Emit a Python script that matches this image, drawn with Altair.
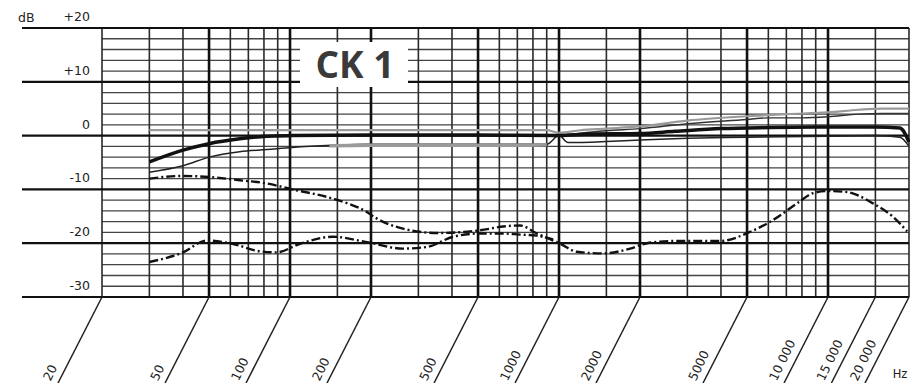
import altair as alt
import pandas as pd

# ---------------- grid / axis data ----------------
grid_freqs = [20, 30, 40, 60, 70, 80, 90, 150, 300, 400, 600, 700, 800, 900,
              1500, 3000, 4000, 6000, 7000, 8000, 9000, 15000, 20000]
major_freqs = [50, 100, 200, 500, 1000, 2000, 5000, 10000]
label_freqs = [20, 50, 100, 200, 500, 1000, 2000, 5000, 10000, 15000, 20000]
label_texts = ["20", "50", "100", "200", "500", "1000", "2000", "5000",
               "10 000", "15 000", "20 000"]
db_major = [-30, -20, -10, 0, 10, 20]
db_major_labels = ["-30", "-20", "-10", "0", "+10", "+20"]
db_minor = [-28, -26, -24, -22, -18, -16, -14, -12, -8, -6, -4, -2,
            2, 4, 6, 8, 12, 14, 16, 18]

# ---------------- curves ----------------
a_f = [30, 40, 50, 65, 82, 100, 200, 500, 1000, 1300, 2000, 2700, 4000, 6000, 10000, 15000, 18500, 20000]
a_db = [-4.9, -2.7, -1.5, -0.6, -0.1, 0.0, 0.1, 0.1, 0.0, 0.3, 0.4, 0.8, 1.3, 1.5, 1.6, 1.6, 1.4, -1.2]

b_f = [30, 40, 50, 65, 82, 102, 144, 193, 300, 500, 900, 1000, 1080, 1500, 2000, 3000, 5000, 10000, 15000, 18500, 20000]
b_db = [-6.8, -5.6, -4.0, -3.0, -2.6, -2.2, -1.8, -1.6, -1.6, -1.6, -1.6, 0.0, -1.3, -1.1, -0.8, -0.5, -0.3, -0.1, 0.0, -0.3, -2.0]

g_f = [140, 200, 400, 700, 900]
g_db = [-1.9, -1.8, -1.8, -1.8, -1.7]

c_f = [30, 100, 300, 900, 1000, 1200, 1500, 2000, 3000, 5000, 7000, 10000, 13000, 16000, 20000]
c_db = [1.0, 1.0, 1.0, 1.0, 0.5, 1.0, 1.3, 1.7, 2.8, 3.6, 4.0, 4.3, 4.8, 5.0, 5.0]

d_f = [1000, 1500, 2000, 3000, 5000, 6000, 8000, 10000, 13000, 16000, 20000]
d_db = [0.0, 0.9, 1.3, 2.2, 3.0, 3.3, 3.3, 3.5, 4.0, 4.1, 4.1]

e_f = [30, 40, 50, 65, 82, 102, 144, 193, 210, 263, 352, 508, 620, 716, 828, 1010, 1166, 1457,
       1837, 2124, 2650, 3970, 5130, 6240, 7670, 8800, 9910, 11770, 14690, 17450, 19680]
e_db = [-8.0, -7.5, -7.7, -8.3, -8.9, -10.0, -11.7, -14.2, -15.4, -17.3, -18.1, -17.6, -16.9, -16.7,
        -18.2, -20.1, -21.6, -21.9, -21.0, -20.0, -19.6, -19.6, -17.9, -15.7, -12.6, -10.7, -10.3,
        -10.5, -12.6, -15.1, -17.8]

f_f = [30, 40, 49, 61, 77, 89, 109, 144, 193, 263, 323, 404, 508, 620, 716, 828, 950]
f_db = [-23.5, -21.7, -19.5, -20.1, -21.5, -21.7, -20.1, -18.8, -19.8, -21.0, -20.7, -18.8,
        -18.2, -18.2, -18.4, -18.6, -19.3]

W, H = 807, 269
xs = alt.Scale(type="log", domain=[20, 20000], nice=False)
ys = alt.Scale(domain=[-30, 20], nice=False, zero=False)


def X(field):
    return alt.X(field, type="quantitative", scale=xs, axis=None)


def Y(field):
    return alt.Y(field, type="quantitative", scale=ys, axis=None)


layers = []

# minor horizontal grid
layers.append(alt.Chart(pd.DataFrame({"db": db_minor})).mark_rule(color="#444", strokeWidth=1.3)
              .encode(y=Y("db"), x=alt.value(0), x2=alt.value(W)))
# minor vertical grid
layers.append(alt.Chart(pd.DataFrame({"f": grid_freqs})).mark_rule(color="#2a2a2a", strokeWidth=1.6)
              .encode(x=X("f"), y=alt.value(0), y2=alt.value(H)))
# major vertical grid
layers.append(alt.Chart(pd.DataFrame({"f": major_freqs})).mark_rule(color="#111", strokeWidth=2.6)
              .encode(x=X("f"), y=alt.value(0), y2=alt.value(H)))
# major horizontal grid (extends left under labels)
layers.append(alt.Chart(pd.DataFrame({"db": db_major})).mark_rule(color="#111", strokeWidth=2.2)
              .encode(y=Y("db"), x=alt.value(-80), x2=alt.value(W)))

# dB labels
layers.append(alt.Chart(pd.DataFrame({"db": db_major, "lab": db_major_labels}))
              .mark_text(align="right", baseline="middle", fontSize=12.5, font="DejaVu Sans",
                         color="#222", yOffset=-11)
              .encode(y=Y("db"), x=alt.value(-12), text="lab:N"))
layers.append(alt.Chart(pd.DataFrame({"t": ["dB"]}))
              .mark_text(align="left", baseline="middle", fontSize=12.5, font="DejaVu Sans", color="#222")
              .encode(x=alt.value(-84), y=alt.value(-10), text="t:N"))

# diagonal leader lines for frequency labels
layers.append(alt.Chart(pd.DataFrame({"f": label_freqs}))
              .mark_rule(color="#222", strokeWidth=1.5, x2Offset=-44)
              .encode(x=X("f"), x2="f:Q", y=alt.value(H), y2=alt.value(H + 86)))
layers.append(alt.Chart(pd.DataFrame({"f": label_freqs, "lab": label_texts}))
              .mark_text(angle=296, align="left", baseline="middle", xOffset=-55,
                         fontSize=12.5, font="DejaVu Sans", color="#222")
              .encode(x=X("f"), y=alt.value(352), text="lab:N"))
layers.append(alt.Chart(pd.DataFrame({"t": ["Hz"]}))
              .mark_text(align="center", baseline="middle", fontSize=11.5, font="DejaVu Sans", color="#222")
              .encode(x=alt.value(798), y=alt.value(347), text="t:N"))

# title box
layers.append(alt.Chart(pd.DataFrame({"t": ["CK 1"]})).mark_rect(color="white")
              .encode(x=alt.value(198), x2=alt.value(306), y=alt.value(14), y2=alt.value(59)))
layers.append(alt.Chart(pd.DataFrame({"t": ["CK 1"]}))
              .mark_text(align="center", baseline="middle", fontSize=37, font="Open Sans",
                         fontWeight="bold", color="#3a3a3a")
              .encode(x=alt.value(253), y=alt.value(39), text="t:N"))


def curve(fl, dl, **kw):
    return (alt.Chart(pd.DataFrame({"f": fl, "db": dl}))
            .mark_line(interpolate="monotone", **kw)
            .encode(x=X("f"), y=Y("db"), order="f:Q"))


layers.append(curve(c_f, c_db, color="#9a9a9a", strokeWidth=2.2))
layers.append(curve(d_f, d_db, color="#333", strokeWidth=1.4))
layers.append(curve(b_f, b_db, color="#222", strokeWidth=1.5))
layers.append(curve(g_f, g_db, color="#9a9a9a", strokeWidth=3.5))
layers.append(curve(a_f, a_db, color="#111", strokeWidth=3.5))
layers.append(curve(e_f, e_db, color="#111", strokeWidth=2.4, strokeDash=[9, 3, 2, 3]))
layers.append(curve(f_f, f_db, color="#111", strokeWidth=2.4, strokeDash=[9, 3, 2, 3]))

chart = (alt.layer(*layers)
         .properties(width=W, height=H,
                     autosize=alt.AutoSizeParams(type="none"),
                     padding={"left": 94, "top": 20, "right": 1, "bottom": 86},
                     background="white")
         .configure_view(stroke=None))

chart.save("out.html", embed_options={"renderer": "svg", "actions": False})
